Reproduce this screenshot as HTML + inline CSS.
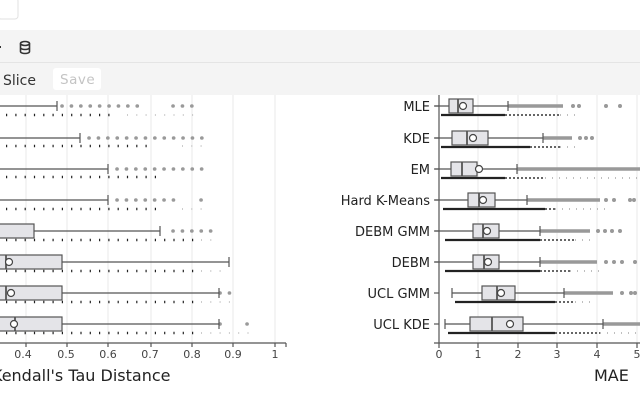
<!DOCTYPE html>
<html><head><meta charset="utf-8"><style>
html,body{margin:0;padding:0;width:640px;height:400px;overflow:hidden;background:#fff;font-family:"DejaVu Sans","Liberation Sans",sans-serif}
</style></head><body>
<svg width="640" height="400" viewBox="0 0 640 400" xmlns="http://www.w3.org/2000/svg" font-family="DejaVu Sans, Liberation Sans, sans-serif">
<rect x="-2" y="-2" width="20" height="21" rx="3" fill="#fff" stroke="#e2e2e2"/>
<rect x="0" y="30" width="640" height="65" fill="#f4f4f4"/>
<line x1="0" y1="62.5" x2="640" y2="62.5" stroke="#e4e4e4"/>
<rect x="-2" y="46" width="3" height="2" fill="#333"/>
<g fill="none" stroke="#333" stroke-width="1.6">
<ellipse cx="25" cy="43.5" rx="4.5" ry="2"/>
<path d="M20.5 43.5v8c0 1.2 2 2 4.5 2s4.5-.8 4.5-2v-8M20.5 47.5c0 1.2 2 2 4.5 2s4.5-.8 4.5-2"/>
</g>
<text x="3" y="85" font-size="14" fill="#333">Slice</text>
<rect x="53" y="68" width="48" height="22" rx="3" fill="#fff"/>
<text x="60" y="84" font-size="13.5" fill="#c4c4c4" letter-spacing="0.5">Save</text>

<g stroke="#e8e8e8" stroke-width="1">
<line x1="26" y1="95" x2="26" y2="343"/><line x1="67" y1="95" x2="67" y2="343"/><line x1="108" y1="95" x2="108" y2="343"/><line x1="151" y1="95" x2="151" y2="343"/><line x1="192" y1="95" x2="192" y2="343"/><line x1="233" y1="95" x2="233" y2="343"/><line x1="275" y1="95" x2="275" y2="343"/>
<line x1="478" y1="95" x2="478" y2="343"/><line x1="518" y1="95" x2="518" y2="343"/><line x1="557" y1="95" x2="557" y2="343"/><line x1="597" y1="95" x2="597" y2="343"/><line x1="637" y1="95" x2="637" y2="343"/>
</g>
<g stroke="#222" stroke-width="2.5" stroke-dasharray="1.2 8.1">
<line x1="6" y1="115" x2="110" y2="115"/><line x1="6" y1="146" x2="150" y2="146"/><line x1="6" y1="177" x2="158" y2="177"/><line x1="6" y1="209" x2="158" y2="209"/><line x1="6" y1="240" x2="200" y2="240"/><line x1="6" y1="271" x2="200" y2="271"/><line x1="6" y1="302" x2="200" y2="302"/><line x1="6" y1="333" x2="200" y2="333"/>
</g>
<g stroke="#bbb" stroke-width="1.5" stroke-dasharray="1 8.3">
<line x1="127" y1="115" x2="195" y2="115"/><line x1="182" y1="146" x2="205" y2="146"/><line x1="182" y1="209" x2="205" y2="209"/><line x1="201" y1="240" x2="215" y2="240"/><line x1="201" y1="271" x2="225" y2="271"/><line x1="201" y1="302" x2="232" y2="302"/><line x1="201" y1="333" x2="250" y2="333"/>
</g>
<g stroke="#9a9a9a" stroke-width="3.6" stroke-linecap="round" stroke-dasharray="0.1 9.3">
<line x1="62" y1="106" x2="146" y2="106"/><line x1="173" y1="106" x2="193" y2="106"/>
<line x1="89" y1="138" x2="202" y2="138"/>
<line x1="117" y1="169" x2="202" y2="169"/>
<line x1="117" y1="200" x2="175" y2="200"/><line x1="201" y1="200" x2="202" y2="200"/>
<line x1="173" y1="231" x2="220" y2="231"/>
<line x1="220" y1="293" x2="230" y2="293"/>
<line x1="220" y1="324" x2="221" y2="324"/><line x1="247" y1="324" x2="248" y2="324"/>
</g>
<g stroke="#555" stroke-width="1.2" fill="#e4e4e8">
<line x1="0" y1="106" x2="57" y2="106"/><line x1="57" y1="101" x2="57" y2="111"/>
<line x1="0" y1="138" x2="80" y2="138"/><line x1="80" y1="133" x2="80" y2="143"/>
<line x1="0" y1="169" x2="108" y2="169"/><line x1="108" y1="164" x2="108" y2="174"/>
<line x1="0" y1="200" x2="108" y2="200"/><line x1="108" y1="195" x2="108" y2="205"/>
<line x1="34" y1="231" x2="160" y2="231"/><line x1="160" y1="226" x2="160" y2="236"/>
<rect x="-5" y="224" width="39" height="14"/>
<line x1="62" y1="262" x2="229" y2="262"/><line x1="229" y1="257" x2="229" y2="267"/>
<rect x="-5" y="255" width="67" height="14"/><line x1="6" y1="255" x2="6" y2="269" stroke-width="1.8"/>
<line x1="62" y1="293" x2="219" y2="293"/><line x1="219" y1="288" x2="219" y2="298"/>
<rect x="-5" y="286" width="67" height="14"/><line x1="6" y1="286" x2="6" y2="300" stroke-width="1.8"/>
<line x1="62" y1="324" x2="219" y2="324"/><line x1="219" y1="319" x2="219" y2="329"/>
<rect x="-5" y="317" width="67" height="14"/><line x1="15" y1="317" x2="15" y2="331" stroke-width="1.8"/>
</g>
<g fill="#fff" stroke="#444" stroke-width="1.2">
<circle cx="9" cy="262" r="3.5"/><circle cx="11" cy="293" r="3.5"/><circle cx="14" cy="324" r="3.5"/>
</g>
<g stroke="#555" stroke-width="1.2">
<line x1="0" y1="343" x2="286" y2="343"/>
<line x1="26" y1="343" x2="26" y2="347"/><line x1="67" y1="343" x2="67" y2="347"/><line x1="108" y1="343" x2="108" y2="347"/><line x1="151" y1="343" x2="151" y2="347"/><line x1="192" y1="343" x2="192" y2="347"/><line x1="233" y1="343" x2="233" y2="347"/><line x1="275" y1="343" x2="275" y2="347"/><line x1="286" y1="343" x2="286" y2="347"/>
</g>
<g font-size="11" fill="#444" text-anchor="middle">
<text x="23" y="358">0.4</text><text x="66" y="358">0.5</text><text x="108" y="358">0.6</text><text x="150" y="358">0.7</text><text x="192" y="358">0.8</text><text x="233" y="358">0.9</text><text x="275" y="358">1</text>
</g>
<text x="-8" y="381" font-size="16" fill="#222">Kendall's Tau Distance</text>

<g stroke="#222" stroke-width="2.2">
<line x1="441" y1="115" x2="505" y2="115"/><line x1="441" y1="147" x2="530" y2="147"/><line x1="441" y1="178" x2="505" y2="178"/><line x1="443" y1="209" x2="545" y2="209"/><line x1="445" y1="240" x2="540" y2="240"/><line x1="445" y1="271" x2="540" y2="271"/><line x1="455" y1="302" x2="555" y2="302"/><line x1="448" y1="333" x2="555" y2="333"/>
</g>
<g stroke="#666" stroke-width="2" stroke-dasharray="2 2">
<line x1="505" y1="115" x2="560" y2="115"/><line x1="530" y1="147" x2="560" y2="147"/><line x1="505" y1="178" x2="545" y2="178"/><line x1="545" y1="209" x2="555" y2="209"/><line x1="540" y1="240" x2="575" y2="240"/><line x1="540" y1="271" x2="570" y2="271"/><line x1="555" y1="302" x2="575" y2="302"/><line x1="555" y1="333" x2="600" y2="333"/>
</g>
<g stroke="#aaa" stroke-width="1.5" stroke-dasharray="1 6">
<line x1="560" y1="115" x2="575" y2="115"/><line x1="560" y1="147" x2="575" y2="147"/><line x1="545" y1="178" x2="640" y2="178"/><line x1="555" y1="209" x2="610" y2="209"/><line x1="575" y1="240" x2="590" y2="240"/><line x1="570" y1="271" x2="600" y2="271"/><line x1="575" y1="302" x2="590" y2="302"/><line x1="600" y1="333" x2="640" y2="333"/>
</g>
<g stroke="#999" stroke-width="3.5">
<line x1="508" y1="106" x2="563" y2="106"/><line x1="543" y1="138" x2="572" y2="138"/><line x1="517" y1="169" x2="640" y2="169"/><line x1="527" y1="200" x2="600" y2="200"/><line x1="540" y1="231" x2="590" y2="231"/><line x1="540" y1="262" x2="597" y2="262"/><line x1="564" y1="293" x2="613" y2="293"/><line x1="603" y1="324" x2="640" y2="324"/>
</g>
<g fill="#999">
<circle cx="573" cy="106" r="2"/><circle cx="579" cy="106" r="2"/><circle cx="606" cy="106" r="2"/><circle cx="620" cy="106" r="2"/>
<circle cx="580" cy="138" r="2"/><circle cx="586" cy="138" r="2"/><circle cx="592" cy="138" r="2"/>
<circle cx="606" cy="200" r="2"/><circle cx="614" cy="200" r="2"/><circle cx="630" cy="200" r="2"/><circle cx="634" cy="200" r="2"/>
<circle cx="598" cy="231" r="2"/><circle cx="605" cy="231" r="2"/><circle cx="612" cy="231" r="2"/><circle cx="620" cy="231" r="2"/>
<circle cx="606" cy="262" r="2"/><circle cx="614" cy="262" r="2"/><circle cx="622" cy="262" r="2"/><circle cx="635" cy="262" r="2"/>
<circle cx="622" cy="293" r="2"/><circle cx="631" cy="293" r="2"/><circle cx="635" cy="293" r="2"/>
</g>
<g stroke="#555" stroke-width="1.2" fill="#e4e4e8">
<line x1="435" y1="106" x2="508" y2="106"/><line x1="508" y1="101" x2="508" y2="111"/>
<rect x="449" y="99" width="24" height="14"/><line x1="458" y1="99" x2="458" y2="113" stroke-width="1.8"/>
<line x1="435" y1="138" x2="543" y2="138"/><line x1="543" y1="133" x2="543" y2="143"/>
<rect x="452" y="131" width="36" height="14"/><line x1="467" y1="131" x2="467" y2="145" stroke-width="1.8"/>
<line x1="435" y1="169" x2="517" y2="169"/><line x1="517" y1="164" x2="517" y2="174"/>
<rect x="451" y="162" width="26" height="14"/><line x1="462" y1="162" x2="462" y2="176" stroke-width="1.8"/>
<line x1="435" y1="200" x2="527" y2="200"/><line x1="527" y1="195" x2="527" y2="205"/>
<rect x="468" y="193" width="27" height="14"/><line x1="479" y1="193" x2="479" y2="207" stroke-width="1.8"/>
<line x1="435" y1="231" x2="540" y2="231"/><line x1="540" y1="226" x2="540" y2="236"/>
<rect x="473" y="224" width="26" height="14"/><line x1="483" y1="224" x2="483" y2="238" stroke-width="1.8"/>
<line x1="435" y1="262" x2="540" y2="262"/><line x1="540" y1="257" x2="540" y2="267"/>
<rect x="473" y="255" width="26" height="14"/><line x1="484" y1="255" x2="484" y2="269" stroke-width="1.8"/>
<line x1="452" y1="293" x2="564" y2="293"/><line x1="564" y1="288" x2="564" y2="298"/><line x1="452" y1="288" x2="452" y2="298"/>
<rect x="482" y="286" width="33" height="14"/><line x1="497" y1="286" x2="497" y2="300" stroke-width="1.8"/>
<line x1="445" y1="324" x2="603" y2="324"/><line x1="603" y1="319" x2="603" y2="329"/><line x1="445" y1="319" x2="445" y2="329"/>
<rect x="470" y="317" width="53" height="14"/><line x1="492" y1="317" x2="492" y2="331" stroke-width="1.8"/>
</g>
<g fill="#fff" stroke="#444" stroke-width="1.2">
<circle cx="463" cy="106" r="3.5"/><circle cx="473" cy="138" r="3.5"/><circle cx="479" cy="169" r="3.5"/><circle cx="483" cy="200" r="3.5"/><circle cx="487" cy="231" r="3.5"/><circle cx="488" cy="262" r="3.5"/><circle cx="501" cy="293" r="3.5"/><circle cx="510" cy="324" r="3.5"/>
</g>
<g stroke="#555" stroke-width="1.2">
<line x1="439" y1="95" x2="439" y2="343"/><line x1="434" y1="343" x2="640" y2="343"/>
<line x1="434" y1="106" x2="439" y2="106"/><line x1="434" y1="138" x2="439" y2="138"/><line x1="434" y1="169" x2="439" y2="169"/><line x1="434" y1="200" x2="439" y2="200"/><line x1="434" y1="231" x2="439" y2="231"/><line x1="434" y1="262" x2="439" y2="262"/><line x1="434" y1="293" x2="439" y2="293"/><line x1="434" y1="324" x2="439" y2="324"/>
<line x1="439" y1="343" x2="439" y2="348"/><line x1="478" y1="343" x2="478" y2="348"/><line x1="518" y1="343" x2="518" y2="348"/><line x1="557" y1="343" x2="557" y2="348"/><line x1="597" y1="343" x2="597" y2="348"/><line x1="637" y1="343" x2="637" y2="348"/>
</g>
<g font-size="11" fill="#444" text-anchor="middle">
<text x="439" y="358">0</text><text x="478" y="358">1</text><text x="518" y="358">2</text><text x="557" y="358">3</text><text x="597" y="358">4</text><text x="637" y="358">5</text>
</g>
<g font-size="13" fill="#222" text-anchor="end">
<text x="430" y="111">MLE</text><text x="430" y="143">KDE</text><text x="430" y="174">EM</text><text x="430" y="205">Hard K-Means</text><text x="430" y="236">DEBM GMM</text><text x="430" y="267">DEBM</text><text x="430" y="298">UCL GMM</text><text x="430" y="329">UCL KDE</text>
</g>
<text x="594" y="381" font-size="16" fill="#222">MAE</text>
</svg>
</body></html>
